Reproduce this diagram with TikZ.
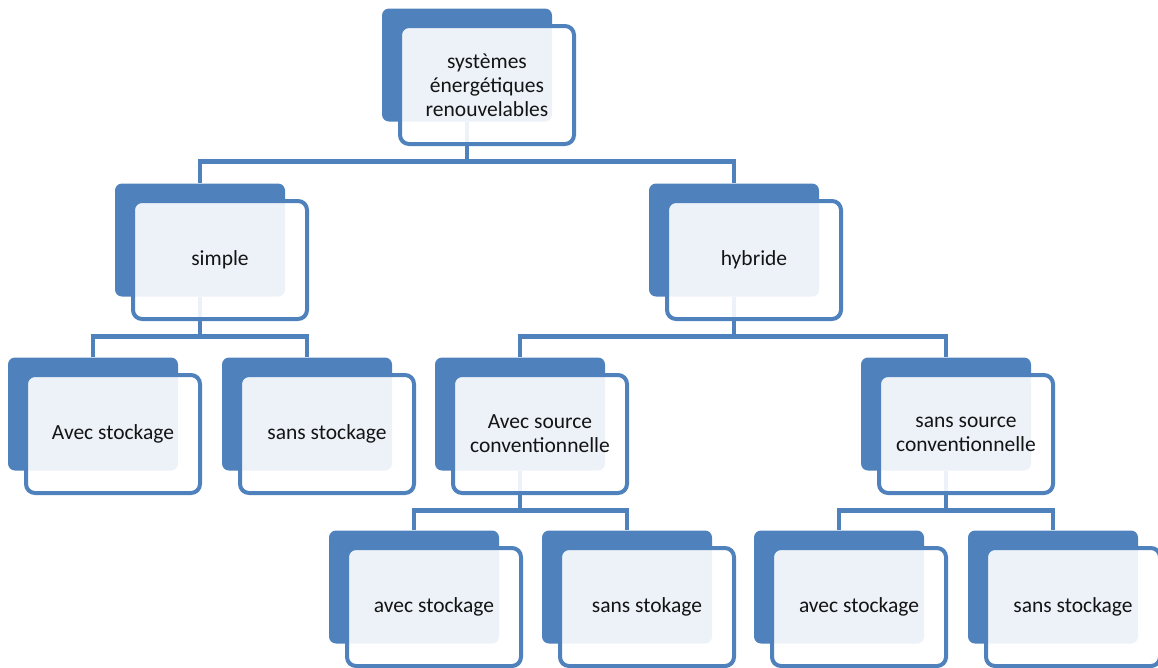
\documentclass[tikz,border=0pt]{standalone}
\usepackage{fontspec}
\setmainfont{Carlito}
\usetikzlibrary{positioning, backgrounds}

\definecolor{orgblue}{HTML}{4F81BD}
\definecolor{orgtext}{HTML}{141414}

\tikzset{
  backbox/.style={fill=orgblue, rounded corners=7pt, minimum width=170pt,
    minimum height=113pt, inner sep=0pt},
  frontbox/.style={draw=orgblue, line width=4pt, fill=white, fill opacity=0.9,
    text opacity=1, text=orgtext, rounded corners=9pt, minimum width=174pt,
    minimum height=118pt, inner sep=2pt, align=center,
    font=\fontsize{21.5}{24}\selectfont},
  link/.style={draw=orgblue, line width=4.5pt},
}

% one box = dark card behind + light card in front
\newcommand{\orgbox}[3]{%
  \node[backbox] (b-#1) at (#2) {};
  \node[frontbox] (#1) at ([shift={(20,20)}]b-#1.center) {#3};
}

\begin{document}
\begin{tikzpicture}[x=1pt, y=-1pt]
  \useasboundingbox (0,0) rectangle (1158,667);

  % level 1 and 2
  \orgbox{root}{467,65}{systèmes\\énergétiques\\renouvelables}
  \orgbox{simple}{200,240}{simple}
  \orgbox{hybride}{734,240}{hybride}

  % level 3
  \orgbox{avst}{93,414}{Avec stockage}
  \orgbox{sansst}{307,414}{sans stockage}
  \orgbox{avsrc}{520,414}{Avec source\\conventionnelle}
  \orgbox{sanssrc}{946,414}{sans source\\conventionnelle}

  % level 4
  \orgbox{avsrc-a}{414,587}{avec stockage}
  \orgbox{avsrc-s}{627,587}{sans stokage}
  \orgbox{sanssrc-a}{839,587}{avec stockage}
  \orgbox{sanssrc-s}{1053,587}{sans stockage}

  % tree links, kept under the cards
  \begin{scope}[on background layer]
    \foreach \p/\c in {root/simple, root/hybride,
                       simple/avst, simple/sansst,
                       hybride/avsrc, hybride/sanssrc,
                       avsrc/avsrc-a, avsrc/avsrc-s,
                       sanssrc/sanssrc-a, sanssrc/sanssrc-s}
      \draw[link] (b-\p.south) -- ++(0,40) -| (b-\c.north);
  \end{scope}
\end{tikzpicture}
\end{document}
